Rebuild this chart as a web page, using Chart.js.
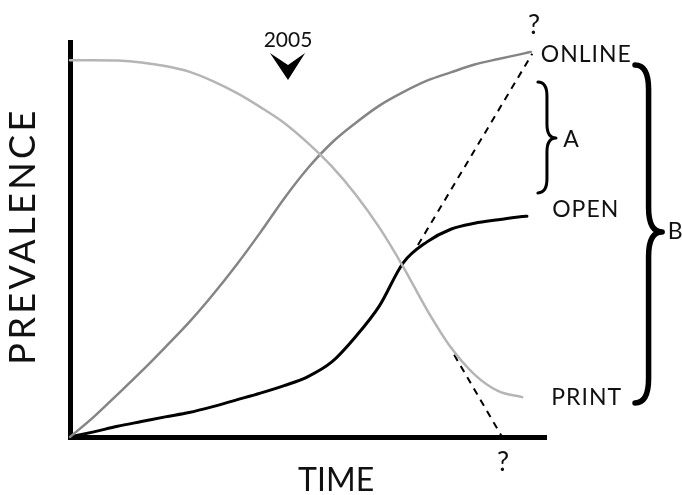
<!DOCTYPE html>
<html>
<head>
<meta charset="utf-8">
<script src="https://cdn.jsdelivr.net/npm/chart.js@4/dist/chart.umd.min.js"></script>
<style>
  html, body { margin: 0; padding: 0; background: #fff; }
  #wrap { width: 682px; height: 495px; position: relative; }
</style>
</head>
<body>
<div id="wrap"><canvas id="chart"></canvas></div>
<script>
// time runs 0..100 along the axis, prevalence 0..100 up the axis
const timeSteps = [0, 5, 10, 15, 20, 25, 30, 35, 40, 45, 50, 55, 60, 65, 70, 75, 80, 85, 90, 95];

const printTime = timeSteps;
const printVals = [95.4, 95.4, 95.3, 94.8, 93.9, 92.5, 90.1, 87.1, 83.5, 79.5, 74.4, 68.5, 61.4, 53.0, 43.1, 32.2, 22.7, 15.8, 11.6, 10.1];

const onlineTime = [...timeSteps, 96.8];
const onlineVals = [0, 5.1, 10.8, 16.6, 22.7, 29.0, 36.0, 43.6, 51.8, 60.4, 68.1, 74.5, 79.5, 83.9, 87.3, 90.2, 92.3, 94.3, 95.7, 97.0, 97.5];

const openTime = [...timeSteps, 96.0];
const openVals = [0, 1.3, 2.7, 3.9, 5.1, 6.2, 7.7, 9.4, 11.1, 13.0, 15.3, 19.0, 25.4, 33.2, 44.1, 49.4, 52.6, 54.1, 55.0, 55.8, 55.9];

// dashed "what if" extensions
const openTrendTime = [73.1, 97.1];
const openTrendVals = [48.6, 97.0];
const printTrendTime = [80.7, 90.8];
const printTrendVals = [20.8, 0];

const seriesLabels = ['PRINT', 'ONLINE', 'OPEN'];

const toPoints = (xs, ys) => xs.map((x, i) => ({ x, y: ys[i] }));

const FONT = 'Lato, "Open Sans", sans-serif';

function drawBrace(ctx, x0, tipX, yTop, yMid, yBot, lw) {
    const w = tipX - x0;
    const q = Math.min(w * 0.9, (yMid - yTop) * 0.25);
    const bx = x0 + w / 2;
    ctx.save();
    ctx.lineWidth = lw;
    ctx.lineCap = 'round';
    ctx.lineJoin = 'round';
    ctx.strokeStyle = '#000';
    ctx.beginPath();
    ctx.moveTo(x0, yTop);
    ctx.quadraticCurveTo(bx, yTop, bx, yTop + q);
    ctx.lineTo(bx, yMid - q);
    ctx.quadraticCurveTo(bx, yMid, tipX, yMid);
    ctx.quadraticCurveTo(bx, yMid, bx, yMid + q);
    ctx.lineTo(bx, yBot - q);
    ctx.quadraticCurveTo(bx, yBot, x0, yBot);
    ctx.stroke();
    ctx.restore();
}

const annotations = {
    id: 'annotations',
    afterDatasetsDraw(chart) {
        const { ctx, scales: { x, y } } = chart;
        const px = v => x.getPixelForValue(v);
        const py = v => y.getPixelForValue(v);

        const text = (str, xv, yv, size, align = 'left', spacing = 0) => {
            ctx.font = `${size}px ${FONT}`;
            ctx.letterSpacing = `${spacing}px`;
            ctx.textAlign = align;
            ctx.textBaseline = 'middle';
            ctx.fillStyle = '#111';
            ctx.fillText(str, px(xv), py(yv));
            ctx.letterSpacing = '0px';
        };

        ctx.save();
        // curve end labels
        text(seriesLabels[1], 98.9, 96.7, 23, 'left', 1);
        text(seriesLabels[2], 101.3, 57.5, 23, 'left', 1);
        text(seriesLabels[0], 101.1, 10.1, 23, 'left', 1);
        text('?', 97.5, 104.3, 27, 'center');
        text('?', 91.0, -6.3, 27, 'center');
        text('A', 103.6, 75.2, 23);
        text('B', 125.6, 51.9, 23);

        // 2005 marker
        text('2005', 45.8, 100.5, 21, 'center');
        ctx.fillStyle = '#000';
        ctx.beginPath();
        ctx.moveTo(px(42.0), py(97.2));
        ctx.lineTo(px(45.8), py(94.2));
        ctx.lineTo(px(49.4), py(97.2));
        ctx.lineTo(px(45.8), py(90.4));
        ctx.closePath();
        ctx.fill();

        // braces
        drawBrace(ctx, px(98.3), px(102.1), py(89.9), py(75.7), py(61.8), 3);
        drawBrace(ctx, px(118.7), px(124.4), py(94.2), py(51.9), py(8.6), 5.5);

        // axis titles
        text('TIME', 55.9, -11.1, 32, 'center');
        ctx.save();
        ctx.translate(px(-9.7), py(50.9));
        ctx.rotate(-Math.PI / 2);
        ctx.font = `36px ${FONT}`;
        ctx.letterSpacing = '3.4px';
        ctx.textAlign = 'center';
        ctx.textBaseline = 'middle';
        ctx.fillStyle = '#111';
        ctx.fillText('PREVALENCE', 0, 0);
        ctx.restore();
        ctx.restore();
    }
};

const curve = (label, xs, ys, color, width) => ({
    label,
    data: toPoints(xs, ys),
    borderColor: color,
    borderWidth: width,
    cubicInterpolationMode: 'monotone',
    pointRadius: 0,
    borderCapStyle: 'round',
    fill: false
});

const dashed = (xs, ys) => ({
    label: 'trend',
    data: toPoints(xs, ys),
    borderColor: '#000',
    borderWidth: 2,
    borderDash: [7, 6],
    pointRadius: 0,
    tension: 0,
    fill: false
});

const axis = (min, max) => ({
    type: 'linear',
    min,
    max,
    ticks: { display: false },
    grid: { display: false, drawTicks: false },
    border: { display: true, color: '#000', width: 5 }
});

new Chart(document.getElementById('chart'), {
    type: 'line',
    data: {
        datasets: [
            curve(seriesLabels[0], printTime, printVals, '#b5b5b5', 2.5),
            curve(seriesLabels[1], onlineTime, onlineVals, '#858585', 2.5),
            curve(seriesLabels[2], openTime, openVals, '#000', 3),
            dashed(openTrendTime, openTrendVals),
            dashed(printTrendTime, printTrendVals)
        ]
    },
    options: {
        responsive: true,
        maintainAspectRatio: false,
        animation: false,
        devicePixelRatio: 1,
        layout: { padding: { left: 70, right: 136, top: 42, bottom: 58 } },
        plugins: { legend: { display: false }, tooltip: { enabled: false } },
        scales: { x: axis(0, 100), y: axis(0, 100) },
        clip: false
    },
    plugins: [annotations]
});
</script>
</body>
</html>
